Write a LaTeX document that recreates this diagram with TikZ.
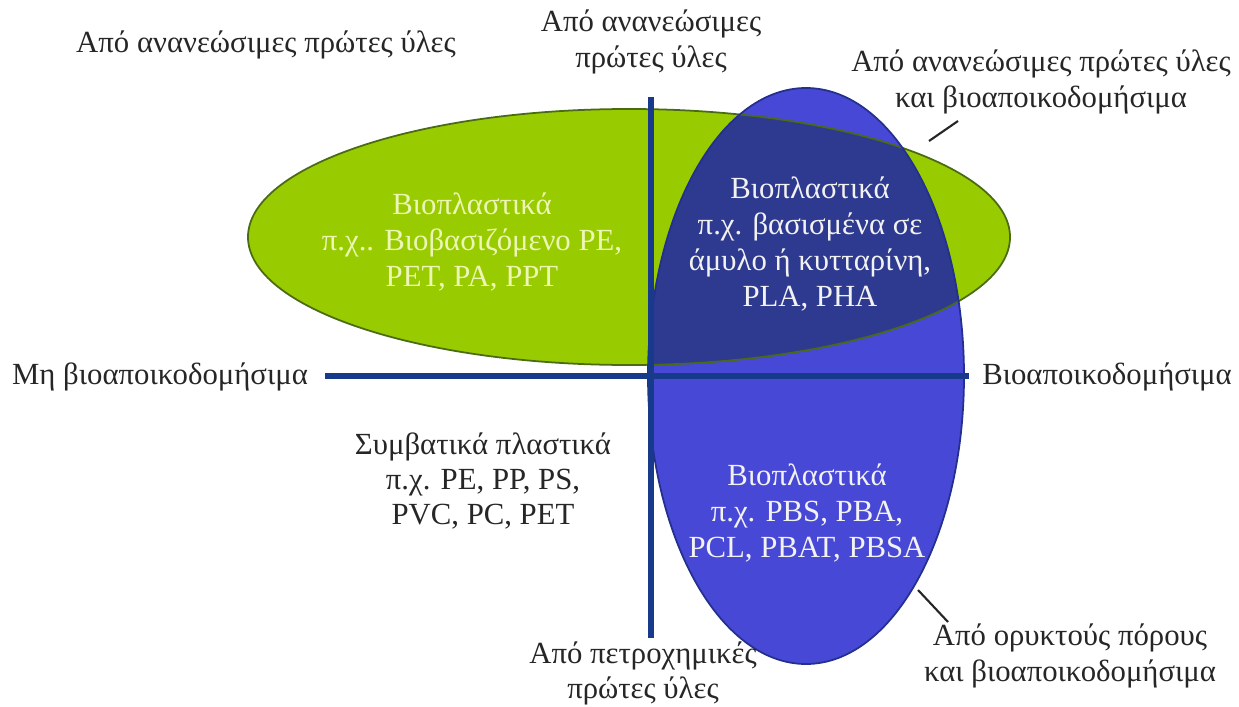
\documentclass[tikz,border=0pt]{standalone}
\usepackage{fontspec}
\setmainfont{LiberationSerif}[Extension=.ttf, UprightFont=*-Regular, BoldFont=*-Bold]
\usepackage{tikz}
\usetikzlibrary{positioning, calc}
\usepackage{xcolor}
\definecolor{renewcolor}{HTML}{99CC00}
\definecolor{renewedge}{HTML}{4A6A14}
\definecolor{degradecolor}{HTML}{4848D6}
\definecolor{degradeedge}{HTML}{23308E}
\definecolor{bothcolor}{HTML}{2D3A8F}
\definecolor{axiscolor}{HTML}{173A8A}
\definecolor{paletext}{HTML}{EDF6B4}
\definecolor{lighttext}{HTML}{F2F2F2}

\begin{document}
\begin{tikzpicture}[
    x=0.02cm, y=-0.02cm,
    label/.style={align=center, font=\fontsize{17.5}{20}\selectfont, text=black!85, inner sep=0pt},
    inside/.style={align=center, font=\fontsize{17.5}{20.5}\selectfont, inner sep=0pt},
    axis/.style={draw=axiscolor, line width=3.4pt},
    pointer/.style={draw=black!85, line width=1.2pt}
]
\useasboundingbox (0,0) rectangle (1239,706);

% Ellipses
\fill[renewcolor] (629,237) ellipse [x radius=381, y radius=128];
\fill[degradecolor] (806,376) ellipse [x radius=158, y radius=288];
\begin{scope}
  \clip (629,237) ellipse [x radius=381, y radius=128];
  \fill[bothcolor] (806,376) ellipse [x radius=158, y radius=288];
\end{scope}
\draw[renewedge, line width=1pt] (629,237) ellipse [x radius=381, y radius=128];
\draw[degradeedge, line width=1pt] (806,376) ellipse [x radius=158, y radius=288];

% Axes
\coordinate (axwest) at (325,376);
\coordinate (axeast) at (969,376);
\coordinate (axnorth) at (651,97);
\coordinate (axsouth) at (651,638);
\draw[axis] (axwest) -- (axeast);
\draw[axis] (axnorth) -- (axsouth);

% Axis labels
\node[label] (nonbio) at (160,377) {Μη βιοαποικοδομήσιμα};
\node[label] (bio) at (1107,377) {Βιοαποικοδομήσιμα};
\node[label] (renewtop) at (651,42) {Από ανανεώσιμες\\πρώτες ύλες};
\node[label] (petro) at (643,673) {Από πετροχημικές\\πρώτες ύλες};

% Corner labels
\node[label] (renewleft) at (266,45) {Από ανανεώσιμες πρώτες ύλες};
\node[label] (renewbio) at (1041,82) {Από ανανεώσιμες πρώτες ύλες\\και βιοαποικοδομήσιμα};
\node[label] (fossilbio) at (1070,656) {Από ορυκτούς πόρους\\και βιοαποικοδομήσιμα};

% Pointers
\coordinate (tipbio) at (929,141);
\coordinate (tipfossil) at (918,590);
\draw[pointer] (tipbio) -- (958,121);
\draw[pointer] (tipfossil) -- (948,622);

% Quadrant texts
\node[inside, text=paletext] (biobased) at (472,242) {Βιοπλαστικά\\π.χ.. Βιοβασιζόμενο PE,\\PET, PA, PPT};
\node[inside, text=lighttext] (starch) at (810,244) {Βιοπλαστικά\\π.χ. βασισμένα σε\\άμυλο ή κυτταρίνη,\\PLA, PHA};
\node[label] (conventional) at (483,481) {Συμβατικά πλαστικά\\π.χ. PE, PP, PS,\\PVC, PC, PET};
\node[inside, text=lighttext] (fossil) at (807,513) {Βιοπλαστικά\\π.χ. PBS, PBA,\\PCL, PBAT, PBSA};

\end{tikzpicture}
\end{document}
